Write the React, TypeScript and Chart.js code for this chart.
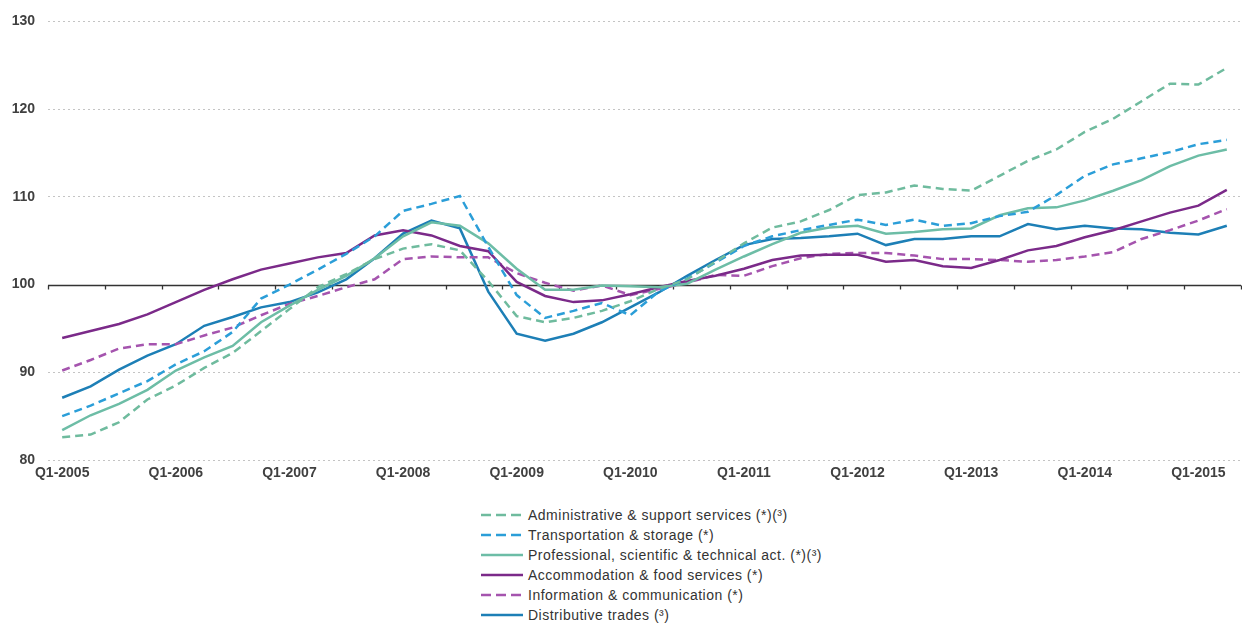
import React, { useEffect, useRef } from 'react';
import { Chart, registerables } from 'chart.js';

Chart.register(...registerables);

const quarters = [
  'Q1-2005', 'Q2-2005', 'Q3-2005', 'Q4-2005',
  'Q1-2006', 'Q2-2006', 'Q3-2006', 'Q4-2006',
  'Q1-2007', 'Q2-2007', 'Q3-2007', 'Q4-2007',
  'Q1-2008', 'Q2-2008', 'Q3-2008', 'Q4-2008',
  'Q1-2009', 'Q2-2009', 'Q3-2009', 'Q4-2009',
  'Q1-2010', 'Q2-2010', 'Q3-2010', 'Q4-2010',
  'Q1-2011', 'Q2-2011', 'Q3-2011', 'Q4-2011',
  'Q1-2012', 'Q2-2012', 'Q3-2012', 'Q4-2012',
  'Q1-2013', 'Q2-2013', 'Q3-2013', 'Q4-2013',
  'Q1-2014', 'Q2-2014', 'Q3-2014', 'Q4-2014',
  'Q1-2015', 'Q2-2015',
];

const adminSupport = [
  82.6, 82.9, 84.3, 86.9, 88.5, 90.5, 92.2, 94.7, 97.2, 99.7, 101.2, 102.9,
  104.1, 104.6, 103.9, 100.4, 96.4, 95.7, 96.2, 97.0, 98.1, 99.5, 100.6, 102.6,
  104.7, 106.5, 107.2, 108.5, 110.2, 110.5, 111.3, 110.9, 110.7, 112.4, 114.1, 115.4,
  117.4, 118.9, 120.9, 122.9, 122.8, 124.7,
];

const transportStorage = [
  85.0, 86.2, 87.6, 89.0, 90.9, 92.4, 94.6, 98.4, 100.0, 101.7, 103.5, 105.5,
  108.4, 109.2, 110.1, 104.3, 98.8, 96.2, 97.0, 97.9, 96.5, 99.2, 100.7, 102.5,
  104.4, 105.5, 106.2, 106.8, 107.4, 106.8, 107.4, 106.7, 107.0, 107.8, 108.3, 110.2,
  112.4, 113.7, 114.4, 115.1, 116.0, 116.5,
];

const professional = [
  83.4, 85.1, 86.4, 88.0, 90.2, 91.7, 93.0, 95.7, 97.6, 99.4, 101.0, 103.0,
  105.5, 107.1, 106.7, 104.7, 101.8, 99.4, 99.4, 99.9, 99.8, 99.7, 100.1, 101.7,
  103.2, 104.6, 105.9, 106.5, 106.7, 105.8, 106.0, 106.3, 106.4, 107.9, 108.7, 108.8,
  109.6, 110.7, 111.9, 113.5, 114.7, 115.4,
];

const accommodation = [
  93.9, 94.7, 95.5, 96.6, 98.0, 99.4, 100.6, 101.7, 102.4, 103.1, 103.6, 105.6,
  106.2, 105.6, 104.4, 103.8, 100.3, 98.7, 98.0, 98.2, 98.9, 99.7, 100.4, 101.0,
  101.8, 102.8, 103.3, 103.4, 103.4, 102.6, 102.8, 102.1, 101.9, 102.8, 103.9, 104.4,
  105.4, 106.2, 107.2, 108.2, 109.0, 110.8,
];

const infoComm = [
  90.2, 91.4, 92.7, 93.2, 93.2, 94.2, 95.1, 96.5, 97.8, 98.7, 99.7, 100.6,
  102.9, 103.2, 103.1, 103.1, 101.3, 100.2, 99.3, 99.9, 98.8, 99.5, 100.2, 101.1,
  101.0, 102.1, 103.0, 103.5, 103.6, 103.6, 103.3, 102.9, 102.9, 102.8, 102.6, 102.8,
  103.2, 103.7, 105.2, 106.2, 107.3, 108.6,
];

const distributive = [
  87.1, 88.4, 90.3, 91.9, 93.2, 95.3, 96.3, 97.4, 98.0, 99.1, 100.6, 103.0,
  105.8, 107.3, 106.4, 99.2, 94.4, 93.6, 94.4, 95.7, 97.4, 99.1, 101.0, 102.8,
  104.5, 105.2, 105.3, 105.5, 105.8, 104.5, 105.2, 105.2, 105.5, 105.5, 106.9, 106.3,
  106.7, 106.4, 106.3, 105.9, 105.7, 106.7,
];

const yTicks = [80, 90, 100, 110, 120, 130];

const FONT = '"Liberation Sans", Arial, sans-serif';

const seriesDefs = [
  { label: 'Administrative & support services (*)(³)', data: adminSupport, color: '#6fbb9e', dashed: true },
  { label: 'Transportation & storage (*)', data: transportStorage, color: '#2b9ed8', dashed: true },
  { label: 'Professional, scientific & technical act. (*)(³)', data: professional, color: '#6dbda6', dashed: false },
  { label: 'Accommodation & food services (*)', data: accommodation, color: '#7b2a89', dashed: false },
  { label: 'Information & communication (*)', data: infoComm, color: '#a554ae', dashed: true },
  { label: 'Distributive trades (³)', data: distributive, color: '#1d7fb6', dashed: false },
];

const baseLinePlugin = {
  id: 'baseLine100',
  beforeDatasetsDraw(chart: any) {
    const { ctx, chartArea, scales } = chart;
    const x = scales.x;
    const y = scales.y;
    const yp = Math.round(y.getPixelForValue(100)) + 0.5;
    ctx.save();
    ctx.strokeStyle = '#333333';
    ctx.lineWidth = 1.3;
    ctx.beginPath();
    ctx.moveTo(chartArea.left, yp);
    ctx.lineTo(chartArea.right, yp);
    const step = x.getPixelForValue(1) - x.getPixelForValue(0);
    for (let i = 0; i <= quarters.length; i += 2) {
      const px = Math.round(x.getPixelForValue(i) - step / 2) + 0.5;
      ctx.moveTo(px, yp);
      ctx.lineTo(px, yp + 4);
    }
    ctx.stroke();
    ctx.restore();
  },
};

export default function App() {
  const canvasRef = useRef<HTMLCanvasElement | null>(null);

  useEffect(() => {
    document.body.style.margin = '0';
    const canvas = canvasRef.current;
    if (!canvas) return;
    const chart = new Chart(canvas, {
      type: 'line',
      data: {
        labels: quarters,
        datasets: seriesDefs.map((s) => ({
          label: s.label,
          data: s.data,
          borderColor: s.color,
          backgroundColor: s.color,
          borderWidth: 2.5,
          borderDash: s.dashed ? [8, 5] : [],
          pointRadius: 0,
          tension: 0,
          fill: false,
        })),
      },
      options: {
        animation: false,
        responsive: false,
        maintainAspectRatio: false,
        layout: { padding: { top: 17, right: 1, left: 0, bottom: 0 } },
        plugins: {
          legend: { display: false },
          tooltip: { enabled: false },
        },
        scales: {
          x: {
            type: 'category',
            offset: true,
            grid: { display: false, drawTicks: false },
            border: { display: false },
            ticks: {
              autoSkip: false,
              maxRotation: 0,
              minRotation: 0,
              padding: 5,
              color: '#404040',
              font: { family: FONT, size: 14, weight: 'bold' },
              callback: (_v: any, i: number) => (quarters[i].startsWith('Q1') ? quarters[i] : ''),
            },
            afterFit: (s: any) => {
              s.height = 30;
            },
          },
          y: {
            min: 80,
            max: 130,
            afterBuildTicks: (s: any) => {
              s.ticks = yTicks.map((v) => ({ value: v }));
            },
            grid: {
              drawTicks: false,
              color: (c: any) => (c.tick && c.tick.value === 100 ? 'rgba(0,0,0,0)' : '#c4c4c4'),
              lineWidth: 1,
            },
            border: { display: false, dash: [2, 3] },
            ticks: {
              padding: 13,
              color: '#404040',
              font: { family: FONT, size: 14, weight: 'bold' },
            },
            afterFit: (s: any) => {
              s.width = 48;
            },
          },
        },
      },
      plugins: [baseLinePlugin],
    });
    return () => chart.destroy();
  }, []);

  return (
    <div style={{ position: 'absolute', left: 0, top: 0, width: 1242, height: 623, background: '#fff', fontFamily: FONT }}>
      <canvas ref={canvasRef} width={1242} height={490} style={{ display: 'block', width: 1242, height: 490 }} />
      <div style={{ position: 'absolute', left: 480, top: 505, width: 500 }}>
        {seriesDefs.map((s) => (
          <div key={s.label} style={{ display: 'flex', alignItems: 'center', height: 20 }}>
            <svg width={44} height={6} style={{ marginRight: 4, flex: 'none' }}>
              <line
                x1={1}
                y1={3}
                x2={43}
                y2={3}
                stroke={s.color}
                strokeWidth={2.5}
                strokeDasharray={s.dashed ? '10,5' : undefined}
              />
            </svg>
            <span style={{ fontSize: 14, letterSpacing: 0.5, color: '#333', whiteSpace: 'nowrap' }}>{s.label}</span>
          </div>
        ))}
      </div>
    </div>
  );
}
